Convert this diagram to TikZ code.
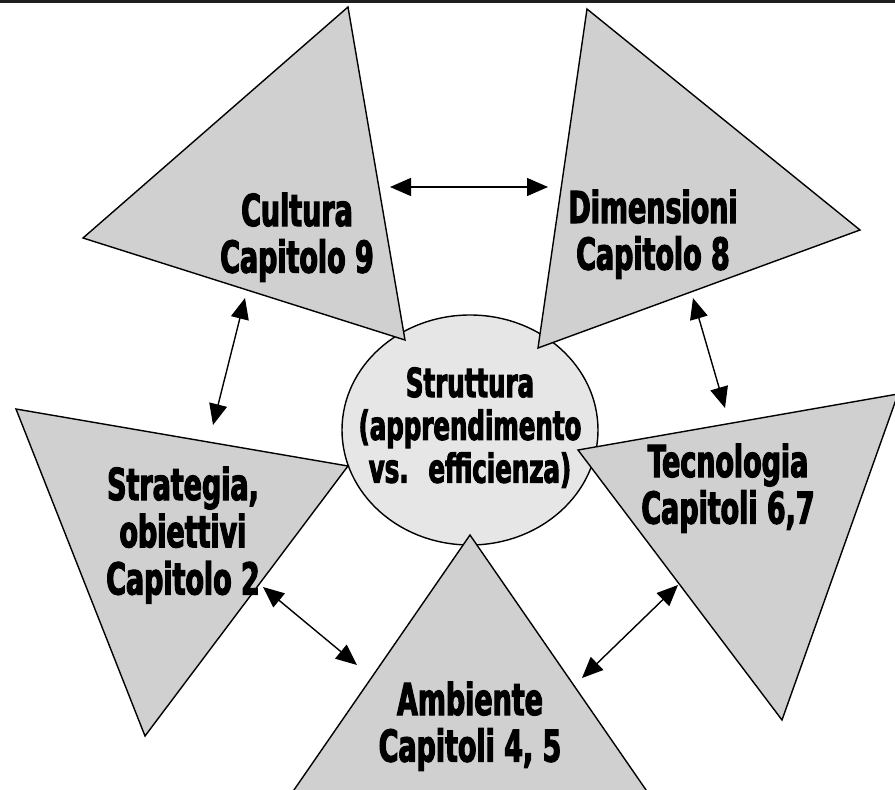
\documentclass[tikz,border=0pt]{standalone}
\usepackage{fontspec}
\newfontfamily\labelfont{DejaVu Sans Condensed Bold}[FakeStretch=0.68, FakeBold=2.5]
\usetikzlibrary{arrows.meta}
\definecolor{shapegray}{RGB}{208,208,208}
\definecolor{hubgray}{RGB}{230,230,230}
\definecolor{topbar}{RGB}{30,30,30}
\tikzset{
  wedge/.style={draw=black, line width=1.4pt, fill=shapegray, line join=miter},
  hub/.style={draw=black, line width=1.4pt, fill=hubgray},
  label/.style={inner sep=0pt, anchor=base, font=\labelfont},
  link/.style={line width=1.4pt, {Triangle[length=21pt,width=18pt]}-{Triangle[length=21pt,width=18pt]}},
}
\newcommand{\outerlabel}[1]{\fontsize{44}{44}\selectfont\begin{tabular}[t]{@{}c@{}}#1\end{tabular}}
\newcommand{\hublabel}[1]{\fontsize{40}{41.5}\selectfont\begin{tabular}[t]{@{}c@{}}#1\end{tabular}}
\begin{document}
\begin{tikzpicture}[x=1pt, y=-1pt]
  \useasboundingbox (0,0) rectangle (895,790);
  \begin{scope}
    \clip (0,0) rectangle (895,790);
    % central ellipse
    \draw[hub] (470,430) ellipse [x radius=128, y radius=115];
    % the five surrounding triangles
    \draw[wedge] (348,7) -- (83,238) -- (405,340) -- cycle;
    \draw[wedge] (587,9) -- (860,230) -- (538,348) -- cycle;
    \draw[wedge] (16,409) -- (348,466) -- (145,736) -- cycle;
    \draw[wedge] (578,450) -- (898,394) -- (782,720) -- cycle;
    \draw[wedge] (470,535) -- (218,900) -- (722,900) -- cycle;
    % dark rule along the top edge
    \fill[topbar] (0,0) rectangle (895,2.5);
  \end{scope}

  % labels
  \node[label] (struttura) at (470,397) {\hublabel{Struttura\\(apprendimento\\vs.~ efficienza)}};
  \node[label] (cultura) at (297,226) {\outerlabel{Cultura\\Capitolo 9}};
  \node[label] (dimensioni) at (653,223) {\outerlabel{Dimensioni\\Capitolo 8}};
  \node[label] (strategia) at (183,500) {\fontsize{44}{46}\selectfont\begin{tabular}[t]{@{}c@{}}Strategia,\\obiettivi\\Capitolo 2\end{tabular}};
  \node[label] (tecnologia) at (728,477) {\outerlabel{Tecnologia\\Capitoli 6,7}};
  \node[label] (ambiente) at (470,715) {\outerlabel{Ambiente\\Capitoli 4, 5}};

  % arrow end points on the triangle edges
  \coordinate (cul-e) at (390,187);
  \coordinate (dim-w) at (548,187);
  \coordinate (cul-s) at (245,298);
  \coordinate (str-n) at (213,425);
  \coordinate (dim-s) at (693,298);
  \coordinate (tec-n) at (725,408);
  \coordinate (str-e) at (263,587);
  \coordinate (amb-w) at (357,665);
  \coordinate (tec-w) at (678,585);
  \coordinate (amb-e) at (582,678);

  % two-way links
  \draw[link] (cul-e) -- (dim-w);
  \draw[link] (cul-s) -- (str-n);
  \draw[link] (dim-s) -- (tec-n);
  \draw[link] (str-e) -- (amb-w);
  \draw[link] (tec-w) -- (amb-e);
\end{tikzpicture}
\end{document}
